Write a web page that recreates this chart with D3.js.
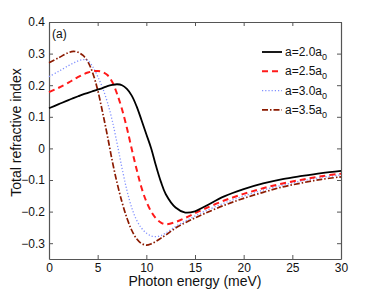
<!DOCTYPE html>
<html lang="en">
<head>
<meta charset="UTF-8">
<title>Total refractive index</title>
<style>
  body { margin: 0; background: #fff; }
  text { font-family: "Liberation Sans", Arial, sans-serif; fill: #111; }
</style>
</head>
<body>
<script src="https://d3js.org/d3.v7.min.js"></script>
<script>

  // photon energy (meV)
  var energy = [0, 1, 2, 2.5, 3, 3.5, 4, 4.5, 5, 5.5, 6, 6.5, 7, 7.5, 8, 8.5, 9, 9.5,
                10, 10.5, 11, 11.5, 12, 13, 14, 15, 16, 18, 20, 22, 24, 26, 28, 30];

  // total refractive index change for each dot radius
  var a20 = [0.127, 0.140, 0.153, 0.159, 0.165, 0.171, 0.176, 0.181, 0.186, 0.191, 0.197, 0.201, 0.203, 0.200, 0.188, 0.167, 0.133, 0.090,
             0.045, 0.000, -0.056, -0.106, -0.145, -0.187, -0.203, -0.199, -0.184, -0.152, -0.129, -0.111, -0.097, -0.087, -0.078, -0.071];
  var a25 = [0.178, 0.192, 0.208, 0.217, 0.226, 0.234, 0.240, 0.244, 0.245, 0.242, 0.232, 0.210, 0.172, 0.124, 0.065, -0.002, -0.066, -0.124,
             -0.168, -0.200, -0.222, -0.235, -0.240, -0.233, -0.220, -0.205, -0.191, -0.165, -0.144, -0.126, -0.111, -0.099, -0.088, -0.080];
  var a30 = [0.227, 0.244, 0.262, 0.270, 0.277, 0.281, 0.278, 0.258, 0.228, 0.192, 0.146, 0.088, 0.015, -0.062, -0.132, -0.188, -0.227, -0.252,
             -0.268, -0.277, -0.279, -0.276, -0.268, -0.247, -0.230, -0.214, -0.199, -0.173, -0.151, -0.132, -0.116, -0.103, -0.092, -0.084];
  var a35 = [0.271, 0.287, 0.303, 0.307, 0.304, 0.294, 0.274, 0.238, 0.185, 0.115, 0.040, -0.040, -0.110, -0.170, -0.220, -0.259, -0.286, -0.301,
             -0.306, -0.302, -0.294, -0.284, -0.274, -0.252, -0.235, -0.220, -0.206, -0.180, -0.158, -0.139, -0.122, -0.109, -0.098, -0.090];

  var seriesNames = ["2.0", "2.5", "3.0", "3.5"];

  var xTicks = [0, 5, 10, 15, 20, 25, 30];
  var yTicks = [0.4, 0.3, 0.2, 0.1, 0, -0.1, -0.2, -0.3];

  var width = 377, height = 291;
  var margin = {top: 22, right: 36, bottom: 32, left: 49};
  var w = width - margin.left - margin.right,
      h = height - margin.top - margin.bottom;

  var x = d3.scaleLinear().domain([0, 30]).range([0, w]);
  var y = d3.scaleLinear().domain([-0.35, 0.4]).range([h, 0]);

  var svg = d3.select("body").append("svg")
      .attr("width", width)
      .attr("height", height);

  var g = svg.append("g")
      .attr("transform", "translate(" + margin.left + "," + margin.top + ")");

  var fmt = function(d) { return d === 0 ? "0" : d3.format(".1f")(d).replace("-", "\u2212"); };

  // axes with ticks pointing inward, box on all four sides
  function styleAxis(sel) {
    sel.select(".domain").attr("stroke", "#555").attr("stroke-width", 1.2);
    sel.selectAll(".tick line").attr("stroke", "#555");
    sel.selectAll(".tick text").style("font-size", "12px").attr("fill", "#111");
  }

  g.append("g")
      .attr("transform", "translate(0," + h + ")")
      .call(d3.axisBottom(x).tickValues(xTicks).tickSizeInner(-4).tickSizeOuter(0).tickPadding(4))
      .call(styleAxis);
  g.append("g")
      .call(d3.axisTop(x).tickValues(xTicks).tickSizeInner(-4).tickSizeOuter(0).tickFormat(""))
      .call(styleAxis);
  g.append("g")
      .call(d3.axisLeft(y).tickValues(yTicks).tickSizeInner(-4).tickSizeOuter(0).tickPadding(4).tickFormat(fmt))
      .call(styleAxis);
  g.append("g")
      .attr("transform", "translate(" + w + ",0)")
      .call(d3.axisRight(y).tickValues(yTicks).tickSizeInner(-4).tickSizeOuter(0).tickFormat(""))
      .call(styleAxis);

  var styles = [
    {color: "#000000", dash: null, width: 1.8},
    {color: "#ff1a1a", dash: "6,4", width: 2},
    {color: "#8090ff", dash: "1.2,2", width: 1.3},
    {color: "#8b1a00", dash: "6,2,1.5,2", width: 1.7}
  ];
  var series = [a20, a25, a30, a35];

  var line = d3.line()
      .x(function(d) { return x(d[0]); })
      .y(function(d) { return y(d[1]); })
      .curve(d3.curveCatmullRom.alpha(0.5));

  // draw in reverse so the black curve sits on top
  for (var i = series.length - 1; i >= 0; i--) {
    var pts = energy.map(function(e, k) { return [e, series[i][k]]; });
    g.append("path")
        .datum(pts)
        .attr("fill", "none")
        .attr("stroke", styles[i].color)
        .attr("stroke-width", styles[i].width)
        .attr("stroke-dasharray", styles[i].dash)
        .attr("d", line);
  }

  g.append("text")
      .attr("x", 3)
      .attr("y", 16)
      .style("font-size", "12px")
      .text("(a)");

  // legend
  var legend = g.append("g").attr("transform", "translate(" + (262 - margin.left) + "," + (52 - margin.top) + ")");
  seriesNames.forEach(function(name, i) {
    var row = legend.append("g").attr("transform", "translate(0," + (i * 19.3) + ")");
    row.append("line")
        .attr("x1", 0).attr("x2", 20)
        .attr("stroke", styles[i].color)
        .attr("stroke-width", styles[i].width)
        .attr("stroke-dasharray", styles[i].dash);
    var t = row.append("text")
        .attr("x", 23)
        .attr("y", 4)
        .style("font-size", "12px");
    t.append("tspan").text("a=" + name + "a");
    t.append("tspan").attr("dy", 4).style("font-size", "9px").text("0");
  });

  // axis titles
  svg.append("text")
      .attr("x", margin.left + w / 2)
      .attr("y", 286)
      .attr("text-anchor", "middle")
      .style("font-size", "14px")
      .text("Photon energy (meV)");

  svg.append("text")
      .attr("transform", "translate(21," + (margin.top + h / 2 - 8) + ") rotate(-90)")
      .attr("text-anchor", "middle")
      .style("font-size", "14px")
      .text("Total refractive index");

</script>
</body>
</html>
